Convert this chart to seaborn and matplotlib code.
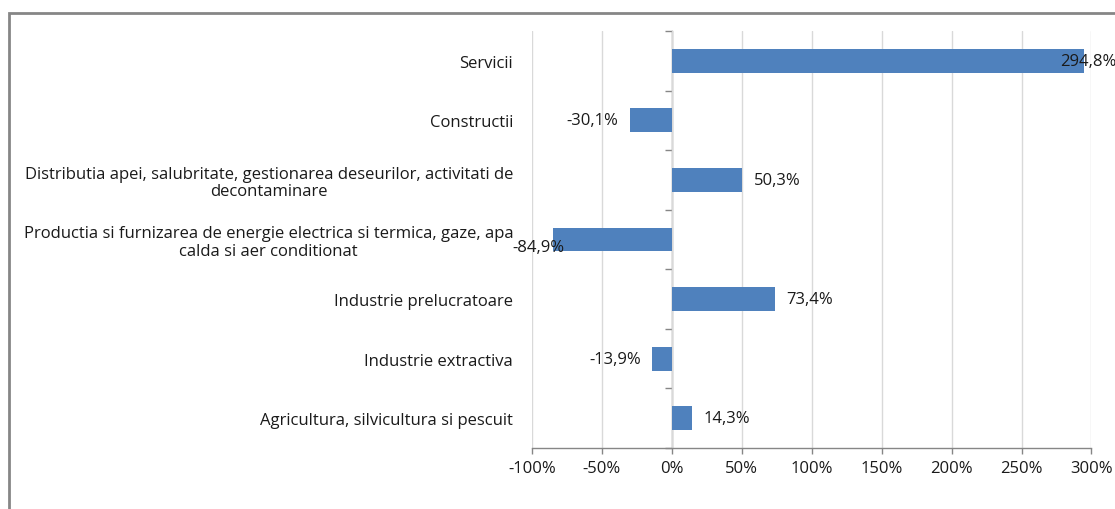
import matplotlib
matplotlib.use("Agg")
import matplotlib.pyplot as plt
import seaborn as sns
import pandas as pd

categories = [
    "Servicii",
    "Constructii",
    "Distributia apei, salubritate, gestionarea deseurilor, activitati de\ndecontaminare",
    "Productia si furnizarea de energie electrica si termica, gaze, apa\ncalda si aer conditionat",
    "Industrie prelucratoare",
    "Industrie extractiva",
    "Agricultura, silvicultura si pescuit",
]
values = [294.8, -30.1, 50.3, -84.9, 73.4, -13.9, 14.3]
value_labels = ["294,8%", "-30,1%", "50,3%", "-84,9%", "73,4%", "-13,9%", "14,3%"]
x_ticks = [-100, -50, 0, 50, 100, 150, 200, 250, 300]
x_tick_labels = ["-100%", "-50%", "0%", "50%", "100%", "150%", "200%", "250%", "300%"]

sns.set_theme(style="white")
plt.rcParams["font.family"] = ["Open Sans", "DejaVu Sans"]

BAR = "#4F81BD"
AXIS = "#868686"
GRID = "#D9D9D9"
TEXT = "#1a1a1a"
FS = 12

df = pd.DataFrame({"sector": categories, "change": values})

fig = plt.figure(figsize=(11.15, 5.10), dpi=100)
ax = fig.add_axes([0.4771, 0.1196, 0.9789 - 0.4771, 0.9373 - 0.1196])

sns.barplot(data=df, x="change", y="sector", orient="h", color=BAR,
            width=0.4, saturation=1, edgecolor="none", ax=ax)

ax.set_xlim(-100, 300)
ax.set_ylim(len(categories) - 0.5, -0.5)
ax.set_xticks(x_ticks)
ax.set_xticklabels(x_tick_labels, fontsize=FS, color=TEXT)
ax.set_xlabel("")
ax.set_ylabel("")

# vertical gridlines
ax.grid(axis="x", color=GRID, linewidth=1)
ax.set_axisbelow(True)

for side in ["top", "right", "left"]:
    ax.spines[side].set_visible(False)
ax.spines["bottom"].set_color(AXIS)
ax.spines["bottom"].set_linewidth(1)
ax.tick_params(axis="x", direction="out", length=4.5, width=1, color=AXIS, pad=4,
               bottom=True)

# category labels on the left, centered lines, right-aligned block
ax.tick_params(axis="y", left=False, length=0, pad=13.5)
for lbl in ax.get_yticklabels():
    lbl.set_fontsize(FS)
    lbl.set_color(TEXT)
    lbl.set_multialignment("center")
    lbl.set_linespacing(1.12)

# category axis crossing at 0 with boundary ticks
zero_pos = (0 - x_ticks[0]) / (x_ticks[-1] - x_ticks[0])
sec = ax.secondary_yaxis(zero_pos)
sec.set_yticks([i - 0.5 for i in range(len(categories) + 1)])
sec.set_yticklabels([])
sec.tick_params(axis="y", direction="out", length=5, width=1, color=AXIS)
sec.spines["left"].set_color(AXIS)
sec.spines["left"].set_linewidth(1)

# value labels
for i, (v, txt) in enumerate(zip(values, value_labels)):
    if i == 0:
        ax.annotate(txt, xy=(v, i), xytext=(-24, 0), textcoords="offset pixels",
                    ha="left", va="center", fontsize=FS, color=TEXT)
    elif txt == "-84,9%":
        ax.annotate(txt, xy=(v, i), xytext=(11, -8), textcoords="offset pixels",
                    ha="right", va="center", fontsize=FS, color=TEXT)
    elif v >= 0:
        ax.annotate(txt, xy=(v, i), xytext=(12, 0), textcoords="offset pixels",
                    ha="left", va="center", fontsize=FS, color=TEXT)
    else:
        ax.annotate(txt, xy=(v, i), xytext=(-11, 0), textcoords="offset pixels",
                    ha="right", va="center", fontsize=FS, color=TEXT)

# chart frame running off the right and bottom edges
frame = plt.Rectangle((8.5 / 1115, -0.1), 1.2, 1.1 - 14 / 510,
                      transform=fig.transFigure, fill=False,
                      edgecolor=AXIS, linewidth=2)
fig.patches.append(frame)

fig.savefig("out.png", dpi=100)
